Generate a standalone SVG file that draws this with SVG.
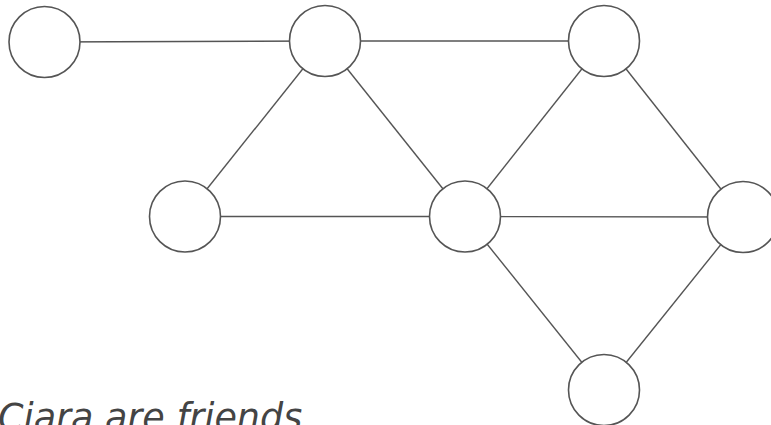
<svg xmlns="http://www.w3.org/2000/svg" width="771" height="425" viewBox="0 0 771 425">
<style>
.n{fill:#fff;stroke:#555;stroke-width:1.6}
.e{stroke:#555;stroke-width:1.4;fill:none}
.t{font-family:"DejaVu Sans",sans-serif;font-style:italic;font-size:36.5px;fill:#444}
</style>
<rect width="771" height="425" fill="#fff"/>
<g id="edges">
<line class="e" x1="44.5" y1="42" x2="325" y2="41"/>
<line class="e" x1="325" y1="41" x2="604" y2="41"/>
<line class="e" x1="325" y1="41" x2="185" y2="216.5"/>
<line class="e" x1="325" y1="41" x2="465" y2="216.5"/>
<line class="e" x1="604" y1="41" x2="465" y2="216.5"/>
<line class="e" x1="604" y1="41" x2="743" y2="217"/>
<line class="e" x1="185" y1="216.5" x2="465" y2="216.5"/>
<line class="e" x1="465" y1="216.5" x2="743" y2="217"/>
<line class="e" x1="465" y1="216.5" x2="604" y2="390"/>
<line class="e" x1="743" y1="217" x2="604" y2="390"/>
</g>
<g id="n1"><circle class="n" cx="44.5" cy="42" r="35.5"/></g>
<g id="n2"><circle class="n" cx="325" cy="41" r="35.5"/></g>
<g id="n3"><circle class="n" cx="604" cy="41" r="35.5"/></g>
<g id="n4"><circle class="n" cx="185" cy="216.5" r="35.5"/></g>
<g id="n5"><circle class="n" cx="465" cy="216.5" r="35.5"/></g>
<g id="n6"><circle class="n" cx="743" cy="217" r="35.5"/></g>
<g id="n7"><circle class="n" cx="604" cy="390" r="35.5"/></g>
<text class="t" x="-2" y="430">Ciara are friends</text>
</svg>
